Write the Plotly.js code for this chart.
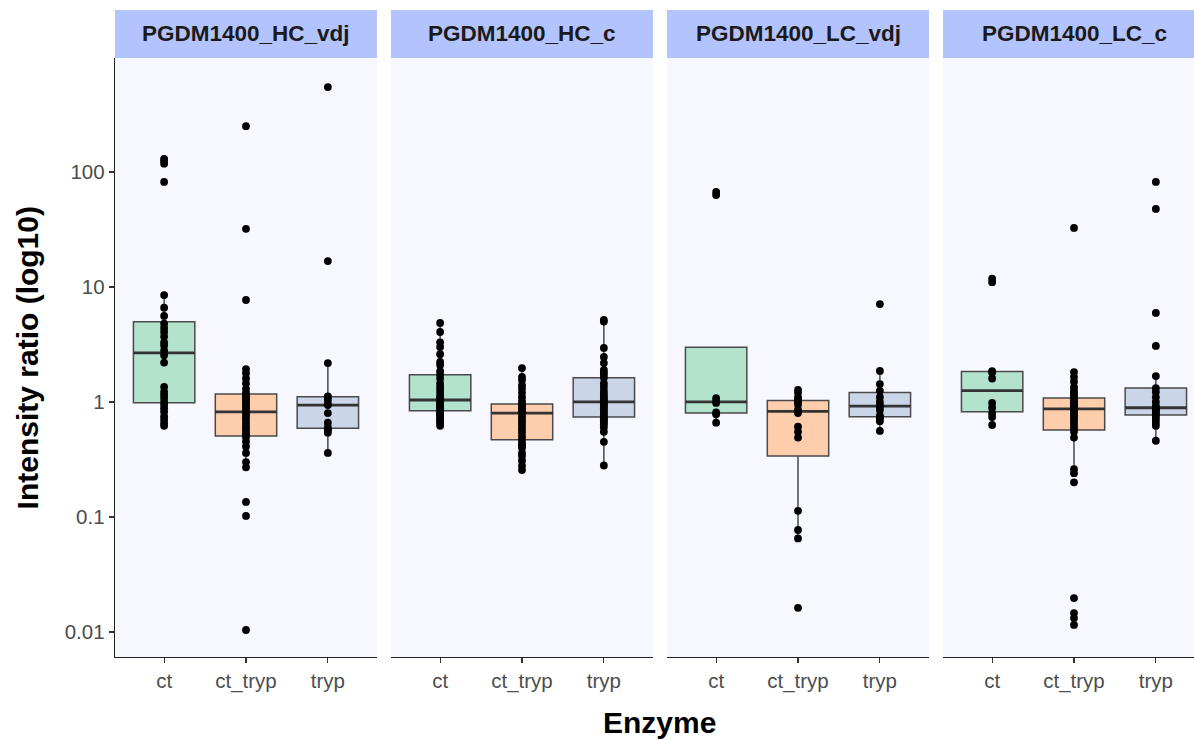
<!DOCTYPE html>
<html>
<head>
<meta charset="utf-8">
<script src="https://cdn.plot.ly/plotly-3.0.1.min.js"></script>
<style>html,body{margin:0;padding:0;background:#fff;}#chart{width:1194px;height:740px;}</style>
</head>
<body>
<div id="chart"></div>
<script>
// ---------- data ----------
const facets = ["PGDM1400_HC_vdj", "PGDM1400_HC_c", "PGDM1400_LC_vdj", "PGDM1400_LC_c"];
const enzymes = ["ct", "ct_tryp", "tryp"];
const yTickVals = [0.01, 0.1, 1, 10, 100];
const yTickText = ["0.01", "0.1", "1", "10", "100"];

const hcVdj_ct = [0.62,0.65,0.70,0.75,0.82,0.88,0.94,1.0,1.08,1.15,1.22,1.35,2.2,2.55,2.8,3.1,3.3,3.7,4.06,4.4,4.8,5.6,6.6,8.5,82,118,125,130];
const hcVdj_ctTryp = [0.0104,0.102,0.135,0.27,0.30,0.36,0.41,0.45,0.49,0.52,0.54,0.58,0.61,0.65,0.7,0.74,0.78,0.82,0.86,0.9,0.95,1.0,1.04,1.08,1.12,1.15,1.2,1.3,1.45,1.6,1.78,1.93,7.7,32,250];
const hcVdj_tryp = [0.36,0.54,0.57,0.58,0.6,0.66,0.8,0.94,0.96,1.04,1.1,1.12,2.18,16.8,547];

const hcC_ct = [0.62,0.65,0.68,0.70,0.73,0.76,0.78,0.81,0.84,0.86,0.88,0.9,0.93,0.95,0.98,1.0,1.04,1.08,1.12,1.2,1.28,1.35,1.45,1.6,1.72,1.85,2.1,2.23,2.6,3.0,3.3,4.06,4.86];
const hcC_ctTryp = [0.256,0.28,0.31,0.34,0.36,0.40,0.42,0.44,0.47,0.5,0.54,0.58,0.62,0.66,0.7,0.75,0.80,0.82,0.84,0.86,0.88,0.9,0.92,0.94,0.96,1.02,1.1,1.2,1.3,1.4,1.55,1.65,1.97];
const hcC_tryp = [0.28,0.45,0.55,0.6,0.64,0.67,0.69,0.72,0.74,0.77,0.8,0.84,0.88,0.91,0.94,0.97,1.0,1.04,1.08,1.12,1.18,1.25,1.35,1.45,1.62,1.72,1.8,1.9,2.18,2.46,2.95,5.0,5.17];

const lcVdj_ct = [0.66,0.78,0.81,0.98,1.02,1.08,63,67];
const lcVdj_ctTryp = [0.0162,0.065,0.077,0.113,0.49,0.55,0.61,0.80,0.86,0.95,1.0,1.02,1.05,1.1,1.2,1.27];
const lcVdj_tryp = [0.56,0.68,0.72,0.74,0.76,0.85,0.9,0.94,1.0,1.1,1.25,1.43,1.86,7.1];

const lcC_ct = [0.63,0.74,0.8,0.89,0.98,1.6,1.8,1.85,11,11.8];
const lcC_ctTryp = [0.0115,0.0132,0.0146,0.0197,0.2,0.24,0.26,0.49,0.55,0.59,0.62,0.66,0.7,0.74,0.77,0.8,0.84,0.87,0.9,0.92,0.94,0.97,1.0,1.02,1.04,1.06,1.1,1.15,1.2,1.27,1.35,1.5,1.65,1.82,32.6];
const lcC_tryp = [0.46,0.62,0.66,0.7,0.74,0.77,0.8,0.82,0.85,0.87,0.89,0.92,1.0,1.1,1.22,1.32,1.68,3.07,5.94,47.7,82];

const panelData = [
  [hcVdj_ct, hcVdj_ctTryp, hcVdj_tryp],
  [hcC_ct, hcC_ctTryp, hcC_tryp],
  [lcVdj_ct, lcVdj_ctTryp, lcVdj_tryp],
  [lcC_ct, lcC_ctTryp, lcC_tryp]
];

// ---------- style ----------
const fills = ["#b3e2cd", "#fdcdac", "#cbd5e8"];
const domains = [[0, 0.2428], [0.2558, 0.4986], [0.5116, 0.7544], [0.7674, 1]];
const xRanges = [[0.4, 3.6], [0.4, 3.6], [0.4, 3.6], [0.4, 3.466]];
const boxW = 0.75;

// box statistics computed in log10 space (like a log-scaled boxplot)
function quant(s, p) {
  const h = (s.length - 1) * p, lo = Math.floor(h), hi = Math.ceil(h);
  return s[lo] + (h - lo) * (s[hi] - s[lo]);
}
function stats(vals) {
  const l = vals.map(v => Math.log10(v)).sort((a, b) => a - b);
  const q1 = quant(l, 0.25), med = quant(l, 0.5), q3 = quant(l, 0.75);
  const iqr = q3 - q1;
  const inside = l.filter(v => v >= q1 - 1.5 * iqr && v <= q3 + 1.5 * iqr);
  const lw = Math.min(Math.min(...inside), q1);
  const uw = Math.max(Math.max(...inside), q3);
  const p = v => Math.pow(10, v);
  return {q1: p(q1), med: p(med), q3: p(q3), lw: p(lw), uw: p(uw)};
}

const traces = [];
const tickFont = {size: 20.5, color: "#4d4d4d"};
const layout = {
  width: 1194, height: 740,
  margin: {l: 115, r: 0, t: 10, b: 83},
  paper_bgcolor: "#ffffff",
  plot_bgcolor: "#f7f7ff",
  showlegend: false,
  font: {family: "Liberation Sans, Arial, sans-serif", color: "#4d4d4d", size: 20},
  yaxis: {
    type: "log", range: [-2.218, 2.991], domain: [0, 0.9258], anchor: "x",
    tickvals: yTickVals, ticktext: yTickText, ticks: "outside", ticklen: 5,
    tickcolor: "#333", tickwidth: 1.2, showline: true, linecolor: "#222", linewidth: 1.3,
    showgrid: false, zeroline: false, tickfont: tickFont
  },
  shapes: [], annotations: []
};

for (let p = 0; p < 4; p++) {
  const xa = p === 0 ? "x" : "x" + (p + 1);
  const xaKey = p === 0 ? "xaxis" : "xaxis" + (p + 1);
  layout[xaKey] = {
    domain: domains[p], range: xRanges[p], anchor: "y",
    tickvals: [1, 2, 3], ticktext: enzymes, ticks: "outside", ticklen: 5,
    tickcolor: "#333", tickwidth: 1.2, showline: true, linecolor: "#222", linewidth: 1.3,
    showgrid: false, zeroline: false, tickfont: tickFont
  };
  for (let k = 0; k < 3; k++) {
    const s = stats(panelData[p][k]);
    traces.push({
      type: "box", xaxis: xa, yaxis: "y",
      x: [k + 1], q1: [s.q1], median: [s.med], q3: [s.q3],
      lowerfence: [s.lw], upperfence: [s.uw],
      width: boxW, whiskerwidth: 0, boxpoints: false,
      fillcolor: fills[k], line: {color: "#4a4a4a", width: 1.5},
      hoverinfo: "skip"
    });
    traces.push({
      type: "scatter", mode: "lines", xaxis: xa, yaxis: "y",
      x: [k + 1 - boxW / 2, k + 1 + boxW / 2], y: [s.med, s.med],
      line: {color: "#333333", width: 2.8}, hoverinfo: "skip"
    });
  }
  for (let k = 0; k < 3; k++) {
    const v = panelData[p][k];
    traces.push({
      type: "scatter", mode: "markers", xaxis: xa, yaxis: "y",
      x: v.map(() => k + 1), y: v,
      marker: {color: "#000000", size: 7.8}, cliponaxis: false
    });
  }
  // facet strip
  layout.shapes.push({
    type: "rect", xref: xa + " domain", yref: "paper",
    x0: 0, x1: 1, y0: 0.9258, y1: 1.0,
    fillcolor: "#b3c3fd", line: {width: 0}, layer: "below"
  });
  layout.annotations.push({
    xref: xa + " domain", yref: "paper", x: p === 3 ? 0.522 : 0.5, y: 0.963,
    text: "<b>" + facets[p] + "</b>", showarrow: false,
    font: {size: 22.5, color: "#1a1a1a", family: "Liberation Sans, Arial, sans-serif"},
    xanchor: "center", yanchor: "middle"
  });
}

layout.annotations.push({
  xref: "paper", yref: "paper", x: 0.505, y: -0.1005,
  text: "<b>Enzyme</b>", showarrow: false,
  font: {size: 30, color: "#000"}, xanchor: "center", yanchor: "middle"
});
layout.annotations.push({
  xref: "paper", yref: "paper", x: -0.0816, y: 0.463,
  text: "<b>Intensity ratio (log10)</b>", showarrow: false, textangle: -90,
  font: {size: 30, color: "#000"}, xanchor: "center", yanchor: "middle"
});

Plotly.newPlot("chart", traces, layout, {displayModeBar: false, staticPlot: true});
</script>
</body>
</html>
